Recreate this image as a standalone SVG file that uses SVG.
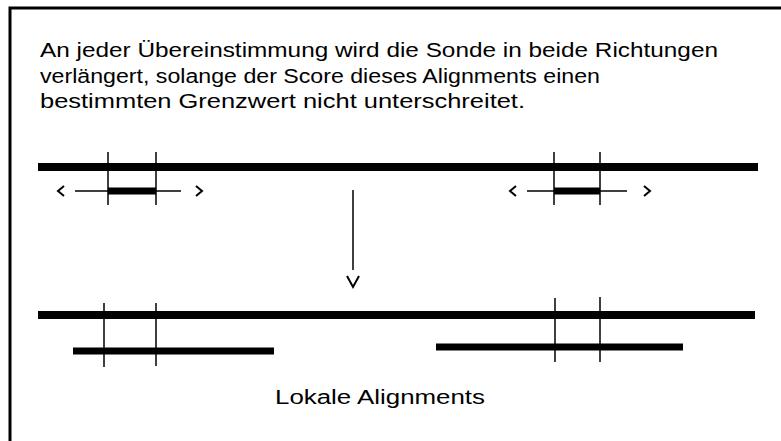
<svg xmlns="http://www.w3.org/2000/svg" width="781" height="441" viewBox="0 0 781 441">
<style>
.t{font-family:"Liberation Sans",Arial,sans-serif;font-size:20px;fill:#000}
.thick{stroke:#000;stroke-width:8;fill:none}
.mid{stroke:#000;stroke-width:7;fill:none}
.thin{stroke:#000;stroke-width:1.5;fill:none}
.chev{stroke:#000;stroke-width:2;fill:none}
</style>
<rect width="781" height="441" fill="#fff"/>
<g id="frame">
<path d="M10 441 V8 H781" stroke="#000" stroke-width="3" fill="none"/>
</g>
<g id="caption">
<text class="t" x="40" y="57" textLength="678" lengthAdjust="spacingAndGlyphs">An jeder Übereinstimmung wird die Sonde in beide Richtungen</text>
<text class="t" x="40" y="83" textLength="560" lengthAdjust="spacingAndGlyphs">verlängert, solange der Score dieses Alignments einen</text>
<text class="t" x="40" y="108" textLength="485" lengthAdjust="spacingAndGlyphs">bestimmten Grenzwert nicht unterschreitet.</text>
</g>
<g id="seq-top">
<line class="thick" x1="38" y1="167" x2="758" y2="167"/>
</g>
<g id="probe-left">
<line class="thin" x1="75" y1="191" x2="181" y2="191"/>
<line class="mid" x1="108" y1="191" x2="156" y2="191"/>
<line class="thin" x1="108" y1="152" x2="108" y2="205"/>
<line class="thin" x1="156" y1="152" x2="156" y2="205"/>
<path class="chev" d="M64 186 L58 191 L64 196"/>
<path class="chev" d="M196 186 L202 191 L196 196"/>
</g>
<g id="probe-right">
<line class="thin" x1="527" y1="191" x2="627" y2="191"/>
<line class="mid" x1="554" y1="191" x2="600" y2="191"/>
<line class="thin" x1="554" y1="152" x2="554" y2="205"/>
<line class="thin" x1="600" y1="152" x2="600" y2="205"/>
<path class="chev" d="M516 186 L510 191 L516 196"/>
<path class="chev" d="M644 186 L650 191 L644 196"/>
</g>
<g id="connectors">
<line class="thin" x1="353" y1="190" x2="353" y2="270"/>
<path class="chev" d="M347 276 L353 287 L359 276"/>
</g>
<g id="seq-bottom">
<line class="thick" x1="38" y1="315" x2="755" y2="315"/>
</g>
<g id="align-left">
<line class="mid" x1="73" y1="351" x2="274" y2="351"/>
<line class="thin" x1="104" y1="303" x2="104" y2="367"/>
<line class="thin" x1="156" y1="303" x2="156" y2="366"/>
</g>
<g id="align-right">
<line class="mid" x1="436" y1="347" x2="683" y2="347"/>
<line class="thin" x1="555" y1="298" x2="555" y2="362"/>
<line class="thin" x1="600" y1="297" x2="600" y2="362"/>
</g>
<g id="label">
<text class="t" x="275" y="404" textLength="210" lengthAdjust="spacingAndGlyphs">Lokale Alignments</text>
</g>
</svg>
